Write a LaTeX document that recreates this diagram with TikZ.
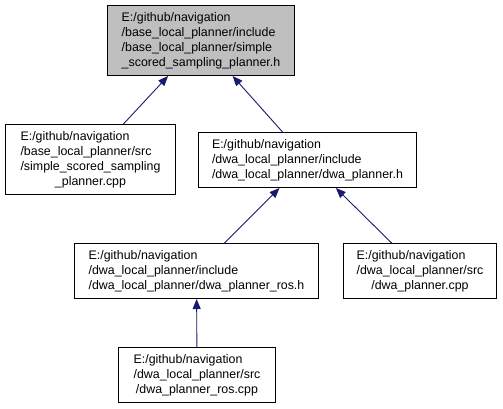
\documentclass[tikz,border=0pt]{standalone}
\usepackage{fontspec}
\setmainfont{Liberation Sans}
\usetikzlibrary{arrows.meta}
\definecolor{edgeblue}{HTML}{191970}
\definecolor{topgray}{HTML}{BFBFBF}
\tikzset{
  filebox/.style={draw=black, line width=1pt, fill=white, inner sep=0pt, anchor=north west,
    font=\fontsize{12.4}{15}\selectfont},
  dep/.style={draw=edgeblue, line width=0.9pt, -{Triangle[length=10pt,width=8pt]}}
}
\newcommand{\filelines}[3]{\begin{tabular}{@{}l@{}}#1\\[-0.5pt]\end{tabular}}
\begin{document}
\begin{tikzpicture}[x=1pt,y=-1pt]
\useasboundingbox (0,0) rectangle (503,408);
\node[filebox, fill=topgray, minimum width=187pt, minimum height=70pt] (top) at (107,5)
  {\begin{tabular}{@{}l@{}}E:/github/navigation\\/base\_local\_planner/include\\/base\_local\_planner/simple\\\multicolumn{1}{@{}c@{}}{\_scored\_sampling\_planner.h}\end{tabular}};
\node[filebox, minimum width=170pt, minimum height=70pt] (ssp) at (5,124)
  {\begin{tabular}{@{}l@{}}E:/github/navigation\\/base\_local\_planner/src\\/simple\_scored\_sampling\\\multicolumn{1}{@{}c@{}}{\_planner.cpp}\end{tabular}};
\node[filebox, minimum width=218pt, minimum height=55pt] (dwah) at (198,132)
  {\begin{tabular}{@{}l@{}}E:/github/navigation\\/dwa\_local\_planner/include\\\multicolumn{1}{@{}c@{}}{/dwa\_local\_planner/dwa\_planner.h}\end{tabular}};
\node[filebox, minimum width=244pt, minimum height=55pt] (rosh) at (74,243)
  {\begin{tabular}{@{}l@{}}E:/github/navigation\\/dwa\_local\_planner/include\\\multicolumn{1}{@{}c@{}}{/dwa\_local\_planner/dwa\_planner\_ros.h}\end{tabular}};
\node[filebox, minimum width=153pt, minimum height=55pt] (dwacpp) at (343,243)
  {\begin{tabular}{@{}l@{}}E:/github/navigation\\/dwa\_local\_planner/src\\\multicolumn{1}{@{}c@{}}{/dwa\_planner.cpp}\end{tabular}};
\node[filebox, minimum width=157pt, minimum height=55pt] (roscpp) at (118,347)
  {\begin{tabular}{@{}l@{}}E:/github/navigation\\/dwa\_local\_planner/src\\\multicolumn{1}{@{}c@{}}{/dwa\_planner\_ros.cpp}\end{tabular}};
\draw[dep] (ssp) -- (top);
\draw[dep] (dwah) -- (top);
\draw[dep] (rosh) -- (dwah);
\draw[dep] (dwacpp) -- (dwah);
\draw[dep] (roscpp) -- (rosh);
\end{tikzpicture}
\end{document}
